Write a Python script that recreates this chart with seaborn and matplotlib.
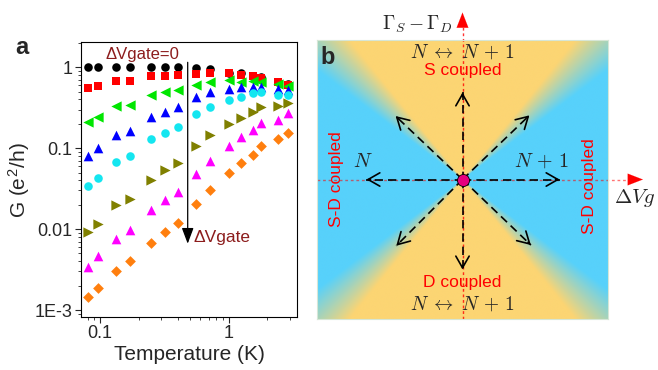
import numpy as np
import pandas as pd
import matplotlib
matplotlib.use("Agg")
import matplotlib.pyplot as plt
import seaborn as sns

# ---------------- data (panel a) ----------------
temperature = [0.08, 0.097, 0.133, 0.17, 0.25, 0.32, 0.40, 0.56, 0.71, 1.0, 1.25, 1.55, 1.8, 2.4, 2.9]
g_black   = [1.0, 1.0, 1.0, 1.0, 1.0, 1.0, 1.0, 0.97, 0.955, 0.86, 0.84, 0.79, 0.75, 0.66, 0.62]
g_red     = [0.55, 0.59, 0.68, 0.68, 0.78, 0.78, 0.80, 0.83, 0.84, 0.84, 0.80, 0.77, 0.73, 0.65, 0.60]
g_green   = [0.21, 0.24, 0.33, 0.34, 0.455, 0.49, 0.525, 0.60, 0.66, 0.70, 0.66, 0.68, 0.66, 0.62, 0.58]
g_blue    = [0.080, 0.10, 0.146, 0.165, 0.245, 0.283, 0.32, 0.425, 0.49, 0.54, 0.565, 0.575, 0.575, 0.535, 0.525]
g_cyan    = [0.0336, 0.0426, 0.068, 0.080, 0.129, 0.153, 0.185, 0.263, 0.327, 0.395, 0.434, 0.478, 0.49, 0.46, 0.455]
g_olive   = [0.0092, 0.0115, 0.0196, 0.0237, 0.0406, 0.054, 0.0664, 0.107, 0.146, 0.198, 0.234, 0.283, 0.327, 0.333, 0.359]
g_magenta = [0.0034, 0.0046, 0.0075, 0.0098, 0.017, 0.0226, 0.0286, 0.048, 0.070, 0.105, 0.137, 0.168, 0.204, 0.224, 0.27]
g_orange  = [0.00145, 0.00187, 0.00306, 0.0040, 0.0068, 0.0093, 0.0119, 0.0205, 0.030, 0.050, 0.065, 0.083, 0.105, 0.129, 0.153]

series_names = ["black", "red", "green", "blue", "cyan", "olive", "magenta", "orange"]
series_values = [g_black, g_red, g_green, g_blue, g_cyan, g_olive, g_magenta, g_orange]
series_colors = ["#000000", "#ff0000", "#00e600", "#0000ff", "#14e6f0", "#808000", "#ff00ff", "#ff7f0e"]
series_markers = ["o", "s", "<", "^", "o", ">", "^", "D"]
series_sizes = [38, 34, 55, 48, 38, 55, 48, 30]

x_ticks = [0.1, 1]
x_tick_labels = ["0.1", "1"]
y_ticks = [1e-3, 1e-2, 1e-1, 1]
y_tick_labels = ["1E-3", "0.01", "0.1", "1"]

sns.set_theme(style="ticks")
plt.rcParams["font.family"] = ["Liberation Sans", "DejaVu Sans"]
plt.rcParams["mathtext.fontset"] = "cm"

fig = plt.figure(figsize=(6.58, 3.70), dpi=100)
axa = fig.add_axes([81 / 658, 1 - 317 / 370, 216 / 658, 275 / 370])

rows = []
for name, vals in zip(series_names, series_values):
    for t, g in zip(temperature, vals):
        rows.append({"T": t, "G": g, "series": name})
df = pd.DataFrame(rows)

for name, col, mk, sz in zip(series_names, series_colors, series_markers, series_sizes):
    sub = df[df["series"] == name]
    sns.scatterplot(data=sub, x="T", y="G", color=col, marker=mk, s=sz,
                    linewidth=0, ax=axa, legend=False, zorder=3)

axa.set_xscale("log")
axa.set_yscale("log")
axa.set_xlim(0.071, 3.4)
axa.set_ylim(8.2e-4, 2.05)
axa.set_xticks(x_ticks)
axa.set_xticklabels(x_tick_labels)
axa.set_yticks(y_ticks)
axa.set_yticklabels(y_tick_labels)
axa.tick_params(which="major", length=4, width=0.8, labelsize=13, pad=2)
axa.tick_params(which="minor", length=2, width=0.6)
axa.tick_params(top=False, right=False, which="both")
for s in axa.spines.values():
    s.set_linewidth(0.8)
    s.set_color("black")
axa.set_xlabel("Temperature (K)", fontsize=15, labelpad=2)
axa.set_ylabel("G (e$^\\mathregular{2}$/h)", fontsize=15, labelpad=1)

# Delta Vgate arrow
axa.annotate("", xy=(0.48, 0.0066), xytext=(0.48, 1.15),
             arrowprops=dict(arrowstyle="-|>,head_length=0.8,head_width=0.3",
                             color="black", lw=0.9, shrinkA=0, shrinkB=0))
axa.text(0.53, 0.0078, "ΔVgate", color="#8c1c1c", fontsize=12.5, va="center", ha="left")
axa.text(0.215, 1.42, "ΔVgate=0", color="#8c1c1c", fontsize=12, va="center", ha="center")

fig.text(22 / 658, 1 - 47 / 370, "a", fontsize=17, fontweight="bold", ha="center", va="center")

# ---------------- panel b (schematic) ----------------
axb = fig.add_axes([317 / 658, 1 - 319 / 370, 291 / 658, 279 / 370])
axb.set_xlim(-1, 1)
axb.set_ylim(-1, 1)
px_x, px_y = 145.5, 139.5

blue = np.array([87, 209, 251]) / 255.0
yellow = np.array([252, 213, 115]) / 255.0
nx, ny = 600, 580
gx = np.linspace(-1, 1, nx)
gy = np.linspace(-1, 1, ny)
X, Y = np.meshgrid(gx, gy)
theta = np.degrees(np.arctan2(np.abs(X * px_x), np.abs(Y * px_y)))
tt = np.clip((theta - 39.0) / (53.0 - 39.0), 0, 1)[..., None]
img = yellow * (1 - tt) + blue * tt
axb.imshow(img, extent=(-1, 1, -1, 1), origin="lower", aspect="auto", zorder=0)
axb.set_xticks([])
axb.set_yticks([])
for s in axb.spines.values():
    s.set_color("#d6e6d6")
    s.set_linewidth(0.8)

# red dotted axes
axb.plot([0, 0], [-1, 1.1], color="red", lw=1.0, ls=(0, (2, 2)), alpha=0.8, zorder=2, clip_on=False)
axb.plot([-1, 1.17], [0, 0], color="red", lw=1.0, ls=(0, (2, 2)), alpha=0.55, zorder=2, clip_on=False)
axb.annotate("", xy=(0, 1.197), xytext=(0, 1.09), annotation_clip=False,
             arrowprops=dict(arrowstyle="-|>,head_length=0.9,head_width=0.35",
                             color="red", lw=0.1, shrinkA=0, shrinkB=0))
axb.annotate("", xy=(1.24, 0), xytext=(1.15, 0), annotation_clip=False,
             arrowprops=dict(arrowstyle="-|>,head_length=0.9,head_width=0.35",
                             color="red", lw=0.1, shrinkA=0, shrinkB=0))

# black dashed arrows from center
tips = [(0, 0.624), (0, -0.645), (-0.66, 0), (0.667, 0),
        (-0.46, 0.455), (0.46, 0.46), (-0.455, -0.475), (0.47, -0.47)]
for tx, ty in tips:
    axb.plot([0, tx], [0, ty], color="black", lw=1.2, ls=(0, (5, 3)), zorder=3)
    d = np.array([tx * px_x, ty * px_y])
    d = d / np.hypot(*d)
    back = (tx - d[0] * 4 / px_x, ty - d[1] * 4 / px_y)
    axb.annotate("", xy=(tx, ty), xytext=back,
                 arrowprops=dict(arrowstyle="->,head_length=0.7,head_width=0.4",
                                 color="black", lw=1.2, shrinkA=0, shrinkB=0), zorder=4)

axb.scatter([0], [0], s=75, color="#e6007e", edgecolor="black", linewidth=0.6, zorder=5)

axb.text(-0.067, 1.11, r"$\Gamma_S-\Gamma_D$", fontsize=14, ha="right", va="center")
axb.text(1.18, -0.13, r"$\Delta Vg$", fontsize=15, ha="center", va="center")
axb.text(0, 0.91, r"$N\;\leftrightarrow\;N\,+\,1$", fontsize=14, ha="center", va="center")
axb.text(0, 0.78, "S coupled", color="red", fontsize=12.5, ha="center", va="center")
axb.text(0, -0.738, "D coupled", color="red", fontsize=12.5, ha="center", va="center")
axb.text(0, -0.896, r"$N\;\leftrightarrow\;N\,+\,1$", fontsize=14, ha="center", va="center")
axb.text(-0.685, 0.129, r"$N$", fontsize=14.5, ha="center", va="center")
axb.text(0.545, 0.129, r"$N\,+\,1$", fontsize=14.5, ha="center", va="center")
axb.text(-0.863, 0.0, "S-D coupled", color="red", fontsize=12.5, rotation=90, ha="center", va="center")
axb.text(0.875, -0.05, "S-D coupled", color="red", fontsize=12.5, rotation=90, ha="center", va="center")
axb.text(-0.925, 0.875, "b", fontsize=17, fontweight="bold", ha="center", va="center")

fig.savefig("out.png", dpi=100)
